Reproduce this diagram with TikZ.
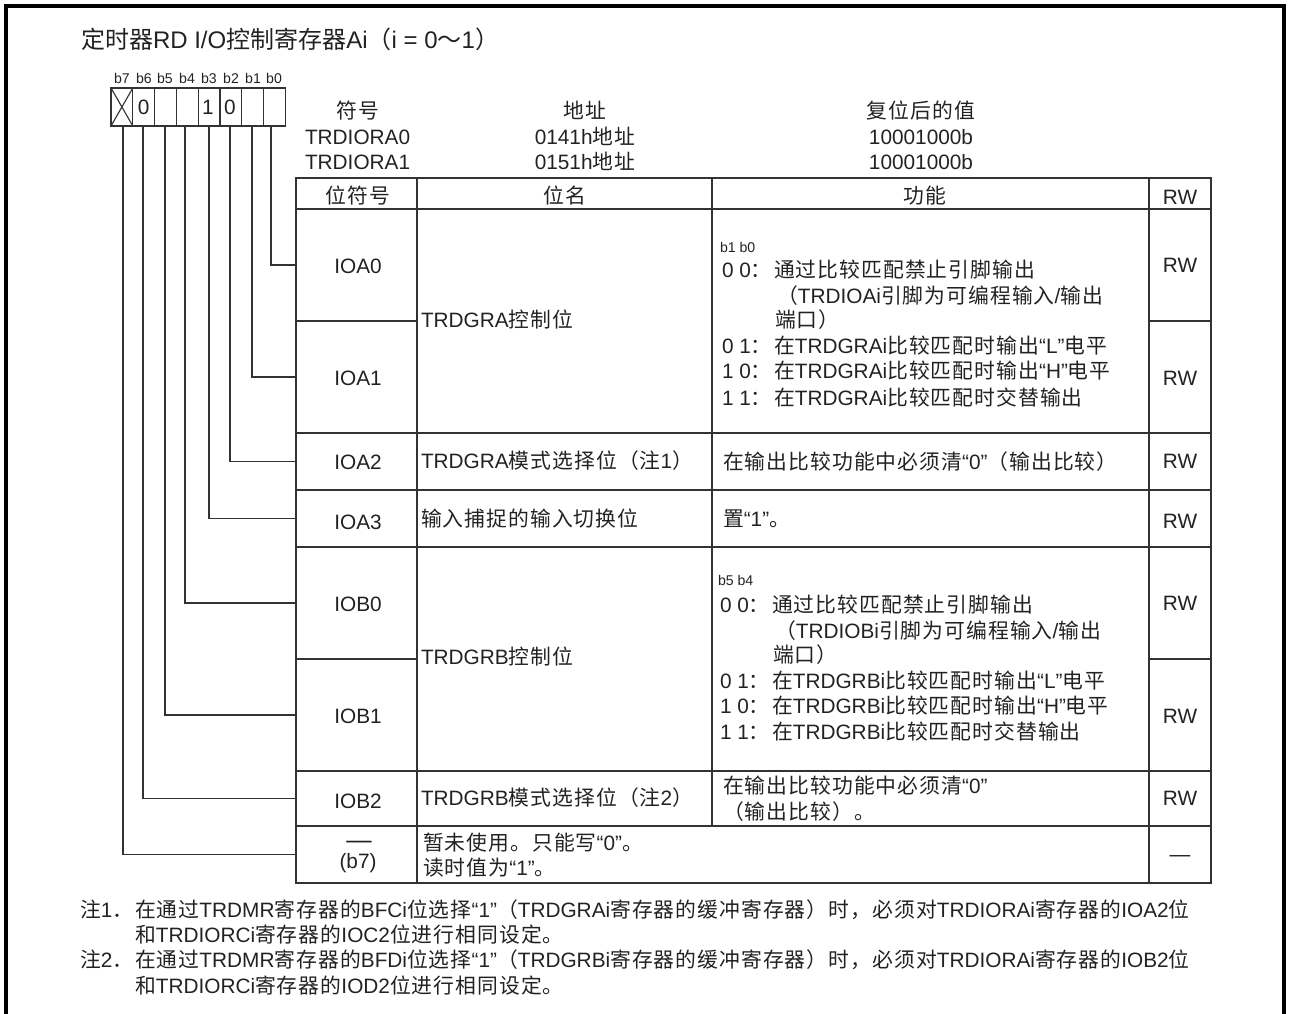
\documentclass[tikz,border=0pt]{standalone}
\usepackage{fontspec}
\setmainfont{Liberation Sans}
\newfontfamily\cjkplain{Noto Sans CJK SC}
\newfontfamily\cjkspaced[LetterSpace=5]{Noto Sans CJK SC}
\let\cjkcur\cjkspaced
\XeTeXinterchartokenstate=1
\newXeTeXintercharclass\cjkclass
\newcount\cjkcnt
\def\cjkrange#1#2{\cjkcnt=#1\relax\loop\XeTeXcharclass\cjkcnt=\cjkclass\relax\ifnum\cjkcnt<#2\relax\advance\cjkcnt by 1\repeat}
\cjkrange{"4E00}{"9FFF}
\cjkrange{"3000}{"303F}
\cjkrange{"FF00}{"FFEF}
\XeTeXinterchartoks 0 \cjkclass={\begingroup\cjkcur}
\XeTeXinterchartoks \cjkclass 0={\endgroup}
\XeTeXinterchartoks 4095 \cjkclass={\begingroup\cjkcur}
\XeTeXinterchartoks \cjkclass 4095={\endgroup}
\definecolor{ink}{HTML}{222222}
\definecolor{rule}{HTML}{333333}
\tikzset{
  txt/.style={inner sep=0pt,outer sep=0pt,text=ink,font=\fontsize{15.6pt}{18pt}\selectfont},
  lft/.style={txt,anchor=base west},
  ctr/.style={txt,anchor=base},
  sml/.style={font=\fontsize{10.6pt}{12pt}\selectfont},
  ttl/.style={font=\let\cjkcur\cjkplain\fontsize{18pt}{20pt}\selectfont},
  line/.style={draw=rule,line width=0.95pt},
  wire/.style={draw=rule,line width=0.85pt},
  frame/.style={draw=black,line width=2.4pt},
  cellbox/.style={line,inner sep=0pt,outer sep=0pt,anchor=north west},
  bitbox/.style={cellbox,minimum width=21.8*0.75pt,minimum height=38*0.75pt},
}
% name, x1, y1, x2, y2
\newcommand{\regcell}[5]{\node[cellbox,minimum width=(#4-#2)*0.75pt,minimum height=(#5-#3)*0.75pt] (#1) at (#2,#3) {};}
\begin{document}
\begin{tikzpicture}[x=0.75pt,y=-0.75pt]
\useasboundingbox (0,0) rectangle (1289,1014);
% outer frame
\draw[frame] (6,1014) -- (6,6) -- (1284,6) -- (1284,1014);
% title
\node[lft,ttl] (title) at (81,48) {定时器RD I/O控制寄存器Ai（i = 0～1）};
% bit cells
\foreach \n/\x in {7/111,6/132.8,5/154.6,4/176.4,3/198.2,2/220,1/241.8,0/263.6}{
  \node[bitbox] (bit\n) at (\x,88) {};
}
\draw[wire] (bit7.north west) -- (bit7.south east);
\draw[wire] (bit7.north east) -- (bit7.south west);
\foreach \n/\x in {7/122,6/144,5/165,4/187,3/209,2/231,1/253,0/274}{
  \node[ctr,sml] (lb\n) at (\x,83) {b\n};
}
\node[ctr] (v6) at (143.7,114) {0};
\node[ctr] (v3) at (208,114) {1};
\node[ctr] (v2) at (230,114) {0};
% register heading
\node[ctr] (hsym) at (358,118) {符号};
\node[lft] (sym0) at (305,144) {TRDIORA0};
\node[lft] (sym1) at (305,169) {TRDIORA1};
\node[ctr] (hadr) at (585,118) {地址};
\node[ctr] (adr0) at (585,144) {0141h地址};
\node[ctr] (adr1) at (585,169) {0151h地址};
\node[ctr] (hval) at (921,118) {复位后的值};
\node[ctr] (val0) at (921,144) {10001000b};
\node[ctr] (val1) at (921,169) {10001000b};
% table: symbol column cells
\regcell{hdr}{296}{178}{417}{209}
\regcell{ioa0}{296}{209}{417}{321}
\regcell{ioa1}{296}{321}{417}{433}
\regcell{ioa2}{296}{433}{417}{490}
\regcell{ioa3}{296}{490}{417}{547}
\regcell{iob0}{296}{547}{417}{659}
\regcell{iob1}{296}{659}{417}{771}
\regcell{iob2}{296}{771}{417}{826}
\regcell{b7row}{296}{826}{417}{883}
% name column
\regcell{hname}{417}{178}{712}{209}
\regcell{ctla}{417}{209}{712}{433}
\regcell{moda}{417}{433}{712}{490}
\regcell{swt}{417}{490}{712}{547}
\regcell{ctlb}{417}{547}{712}{771}
\regcell{modb}{417}{771}{712}{826}
% function column
\regcell{hfun}{712}{178}{1149}{209}
\regcell{funa}{712}{209}{1149}{433}
\regcell{funm}{712}{433}{1149}{490}
\regcell{funs}{712}{490}{1149}{547}
\regcell{funb}{712}{547}{1149}{771}
\regcell{funn}{712}{771}{1149}{826}
\regcell{unuse}{417}{826}{1149}{883}
% RW column
\regcell{hrw}{1149}{178}{1211}{209}
\regcell{rw0}{1149}{209}{1211}{321}
\regcell{rw1}{1149}{321}{1211}{433}
\regcell{rw2}{1149}{433}{1211}{490}
\regcell{rw3}{1149}{490}{1211}{547}
\regcell{rw4}{1149}{547}{1211}{659}
\regcell{rw5}{1149}{659}{1211}{771}
\regcell{rw6}{1149}{771}{1211}{826}
\regcell{rw7}{1149}{826}{1211}{883}
% connectors
\foreach \b/\x/\r in {0/271/ioa0,1/252/ioa1,2/230/ioa2,3/209/ioa3,4/185/iob0,5/165/iob1,6/143/iob2,7/123/b7row}{
  \coordinate (p\b) at (\x,126);
  \draw[wire] (p\b) |- (\r.west);
}
% header text
\node[ctr] (th1) at (358,203) {位符号};
\node[ctr] (th2) at (565,203) {位名};
\node[ctr] (th3) at (925,203) {功能};
\node[ctr] (th4) at (1180,204) {RW};
% symbol text
\node[ctr] (s0) at (358,273) {IOA0};
\node[ctr] (s1) at (358,385) {IOA1};
\node[ctr] (s2) at (358,469) {IOA2};
\node[ctr] (s3) at (358,529) {IOA3};
\node[ctr] (s4) at (358,611) {IOB0};
\node[ctr] (s5) at (358,723) {IOB1};
\node[ctr] (s6) at (358,808) {IOB2};
\node[ctr,font=\fontsize{19pt}{20pt}\selectfont] (s7a) at (359,848) {—};
\node[ctr] (s7b) at (358,868) {(b7)};
% names
\node[lft] (n0) at (421,327) {TRDGRA控制位};
\node[lft] (n1) at (421,468) {TRDGRA模式选择位（注1）};
\node[lft] (n2) at (421,526) {输入捕捉的输入切换位};
\node[lft] (n3) at (421,664) {TRDGRB控制位};
\node[lft] (n4) at (421,805) {TRDGRB模式选择位（注2）};
\node[lft] (n5) at (423,850) {暂未使用。只能写“0”。};
\node[lft] (n6) at (423,875) {读时值为“1”。};
% function A
\node[lft,sml] (fa0) at (720,252) {b1 b0};
\node[lft] (fa1k) at (722,277) {0 0：};
\node[lft] (fa1) at (774,277) {通过比较匹配禁止引脚输出};
\node[lft] (fa2) at (777,303) {（TRDIOAi引脚为可编程输入/输出};
\node[lft] (fa3) at (775,327) {端口）};
\node[lft] (fa4k) at (722,353) {0 1：};
\node[lft] (fa4) at (774,353) {在TRDGRAi比较匹配时输出“L”电平};
\node[lft] (fa5k) at (722,378) {1 0：};
\node[lft] (fa5) at (774,378) {在TRDGRAi比较匹配时输出“H”电平};
\node[lft] (fa6k) at (722,405) {1 1：};
\node[lft] (fa6) at (774,405) {在TRDGRAi比较匹配时交替输出};
\node[lft] (fm) at (723,469) {在输出比较功能中必须清“0”（输出比较）};
\node[lft] (fs) at (723,526) {置“1”。};
% function B
\node[lft,sml] (fb0) at (718,585) {b5 b4};
\node[lft] (fb1k) at (720,612) {0 0：};
\node[lft] (fb1) at (772,612) {通过比较匹配禁止引脚输出};
\node[lft] (fb2) at (775,638) {（TRDIOBi引脚为可编程输入/输出};
\node[lft] (fb3) at (773,662) {端口）};
\node[lft] (fb4k) at (720,688) {0 1：};
\node[lft] (fb4) at (772,688) {在TRDGRBi比较匹配时输出“L”电平};
\node[lft] (fb5k) at (720,713) {1 0：};
\node[lft] (fb5) at (772,713) {在TRDGRBi比较匹配时输出“H”电平};
\node[lft] (fb6k) at (720,739) {1 1：};
\node[lft] (fb6) at (772,739) {在TRDGRBi比较匹配时交替输出};
\node[lft] (fn1) at (723,793) {在输出比较功能中必须清“0”};
\node[lft] (fn2) at (723,819) {（输出比较）。};
% RW text
\node[ctr] (r0) at (1180,272) {RW};
\node[ctr] (r1) at (1180,385) {RW};
\node[ctr] (r2) at (1180,468) {RW};
\node[ctr] (r3) at (1180,528) {RW};
\node[ctr] (r4) at (1180,610) {RW};
\node[ctr] (r5) at (1180,723) {RW};
\node[ctr] (r6) at (1180,805) {RW};
\node[ctr] (r7) at (1180,861) {—};
% notes
\node[lft] (nt1a) at (80,917) {注1．};
\node[lft] (nt1b) at (135,917) {在通过TRDMR寄存器的BFCi位选择“1”（TRDGRAi寄存器的缓冲寄存器）时，必须对TRDIORAi寄存器的IOA2位};
\node[lft] (nt1c) at (135,942) {和TRDIORCi寄存器的IOC2位进行相同设定。};
\node[lft] (nt2a) at (80,967) {注2．};
\node[lft] (nt2b) at (135,967) {在通过TRDMR寄存器的BFDi位选择“1”（TRDGRBi寄存器的缓冲寄存器）时，必须对TRDIORAi寄存器的IOB2位};
\node[lft] (nt2c) at (135,993) {和TRDIORCi寄存器的IOD2位进行相同设定。};
\end{tikzpicture}
\end{document}
